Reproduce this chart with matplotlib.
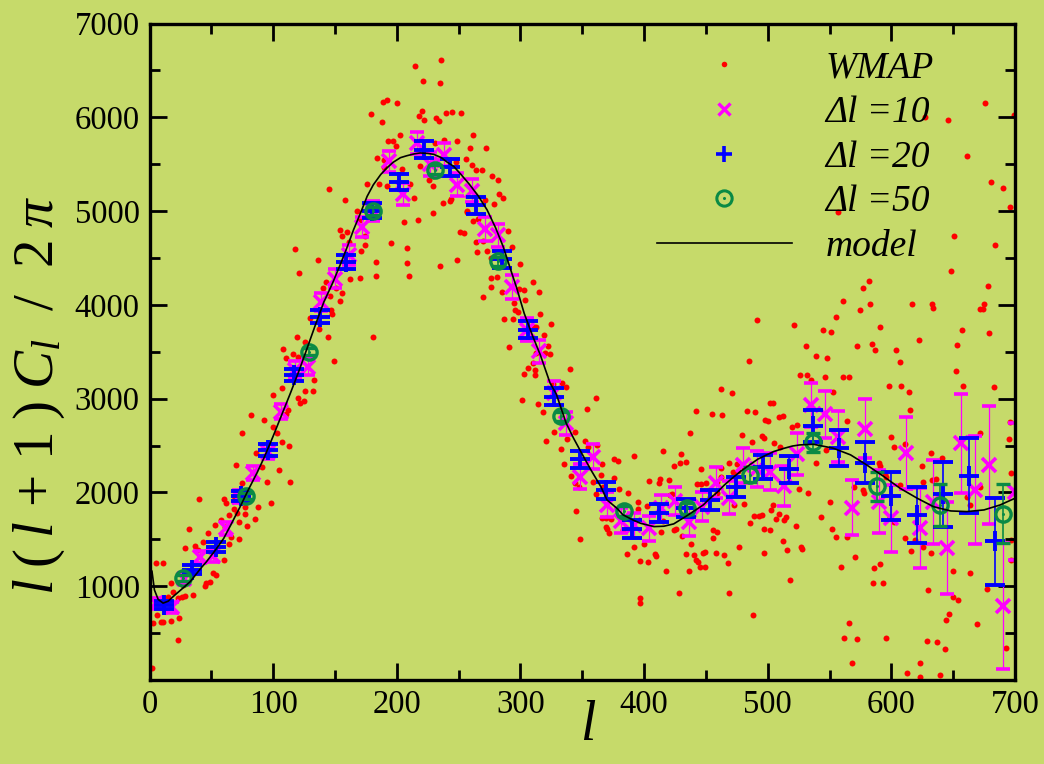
import matplotlib.pyplot as plt
from matplotlib.lines import Line2D
from matplotlib.ticker import MultipleLocator, FixedLocator

plt.rcParams['font.family'] = ['Liberation Serif', 'DejaVu Serif']
plt.rcParams['mathtext.fontset'] = 'custom'
plt.rcParams['mathtext.it'] = 'Liberation Serif:italic'
plt.rcParams['mathtext.rm'] = 'Liberation Serif'

# WMAP power spectrum, one point per multipole (l, l(l+1)C_l/2pi)
wmap_l = [
    2, 3, 5, 6, 9, 11, 11, 15, 17, 17, 19, 23, 23, 24, 26, 27, 29, 29, 32, 35,
    37, 39, 40, 43, 45, 46, 47, 49, 51, 53, 54, 58, 60, 60, 61, 62, 64, 64, 66, 68,
    68, 70, 71, 72, 72, 72, 75, 75, 77, 77, 79, 82, 85, 86, 88, 91, 93, 95, 98, 105,
    114,
    118, 136, 121, 161, 174, 171, 162, 170, 140, 143, 151, 156, 146, 154, 147, 148, 130, 137, 119, 144,
    181, 126, 108, 116, 110, 120, 149, 133, 126, 132, 107, 100, 120, 125, 122, 112, 110, 100, 103, 107,
    113,
    145, 158, 176, 168, 170, 154, 156, 160, 174,
    215, 236, 221, 235, 189, 192, 200, 179, 188, 220, 218, 222, 232, 234, 240, 245, 252, 203, 262, 193,
    197, 199, 231, 238, 249, 259, 272, 184, 190, 190, 248, 256, 261, 219, 204, 264, 269, 277, 229, 226,
    229, 186, 192, 211, 214, 244, 243, 237, 257, 257, 229, 217, 206, 262, 251, 254, 264, 195, 208, 265,
    273, 276, 249, 183, 208, 235, 210, 183, 270, 271, 266, 270,
    282, 283, 286, 279, 290, 293, 300, 276, 281, 276, 285, 299, 303, 310, 315,
    295, 304, 296, 298, 316, 325, 287, 294, 319, 311, 313, 291, 322, 324, 320, 313, 310, 306, 312, 303,
    312, 340, 301, 314, 318, 326, 334, 337, 361, 354, 321, 327, 333, 338, 335, 344, 352, 355, 362, 341,
    344, 347, 345, 348, 359, 366, 361, 365, 367, 376, 376, 379, 366, 369, 373, 369, 370, 372, 380, 387,
    383, 386, 392, 395, 395, 392, 397, 403, 397, 397, 400, 402, 404, 412, 413, 420, 415, 409, 410, 418,
    415, 414, 424, 426, 428, 421, 423, 424, 429, 430, 434, 431, 438, 434, 440, 442, 445, 444, 436, 437,
    442, 443,
    577, 582, 561, 583, 575, 555, 545, 551, 521, 491, 531, 539, 548, 572, 584, 587, 591, 604, 607, 617,
    633, 634, 622, 485, 526, 532, 535, 546, 561, 566, 553, 462, 471, 598, 608, 614, 615, 455, 463, 483,
    490, 498, 500, 502, 504, 509, 512, 520, 524, 564, 479, 487, 495, 497, 505, 510, 547, 600, 602, 611,
    657, 653, 652, 658, 672, 678, 679, 675, 672, 674, 683, 695, 697, 632, 641, 595, 596, 590, 591, 607,
    625, 626, 633, 636, 570, 577, 578, 533, 525, 550, 543, 504, 509, 507, 486, 489, 493, 495, 502, 513,
    515, 523, 516, 512, 518, 497, 527, 528, 552, 555, 564, 559, 571, 586, 591, 585, 593, 599, 602, 611,
    616, 619, 626, 632, 630, 650, 650, 654, 644, 647, 643, 629, 637, 623, 623, 613, 639, 596, 566, 562,
    572, 568, 669, 664, 677, 661, 664, 672, 693, 697, 697, 696, 475, 481, 472, 476, 469, 462, 462, 446,
    450, 446, 459, 459, 453, 473, 481, 456, 459, 456, 449, 458, 465, 468, 477, 448, 449, 469, 488, 497,
    503, 539,
    676, 627, 646, 661, 681, 690, 696, 557, 651, 684, 648, 699,
]
wmap_cl = [
    124, 612, 1252, 693, 622, 615, 1252, 889, 629, 1038, 942, 427, 871, 658, 889, 1013, 1405, 900, 1608, 910,
    1430, 1387, 1928, 1476, 1003, 1038, 1565, 1045, 1138, 1654, 1120, 1707, 1280, 1928, 1629, 1892, 1451, 1760, 1522, 1820,
    1963, 2297, 1778, 1689, 1992, 1504, 2105, 2632, 1771, 1849, 1643, 2827, 1714, 2418, 1842, 2269, 2774, 2116, 1885, 2241,
    2113,
    4595, 4474, 4339, 4667, 4638, 4574, 4275, 4290, 4176, 4240, 4179, 4126, 4097, 4044, 3948, 3905, 3859, 3742, 3656, 3656,
    3656, 3599, 3528, 3478, 3432, 3443, 3400, 3194, 3087, 3087, 3119, 3037, 3005, 2977, 2952, 2874, 2838, 2696, 2632, 2539,
    2500,
    5236, 5114, 5292, 4997, 4908, 4794, 4730, 4773, 4737,
    6544, 6608, 6391, 6366, 6167, 6181, 6153, 6039, 5953, 6067, 6010, 5975, 5993, 5961, 6046, 6053, 6046, 5815, 5815, 5747,
    5747, 5697, 5726, 5754, 5747, 5669, 5669, 5566, 5548, 5470, 5527, 5555, 5491, 5484, 5452, 5441, 5441, 5370, 5370, 5327,
    5263, 5292, 5263, 5285, 5142, 5128, 5103, 5085, 5004, 4986, 4979, 4908, 4886, 4890, 4780, 4765, 4666, 4659, 4605, 4563,
    4574, 4495, 4474, 4459, 4445, 4420, 4310, 4303, 4684, 5121, 4915, 4083,
    5328, 5178, 5143, 5072, 4784, 4616, 4439, 4286, 4296, 4190, 4133, 4168, 4161, 4243, 4140,
    4019, 4048, 3948, 3920, 3906, 3795, 3849, 3849, 3682, 3763, 3763, 3550, 3557, 3475, 3486, 3486, 3379, 3326, 3301, 3265,
    3251, 3315, 2988, 2945, 2853, 3159, 3166, 3123, 3009, 2888, 2554, 2650, 2465, 2568, 2305, 2650, 2554, 2483, 2504, 2177,
    2106, 2063, 1807, 1501, 2116, 2305, 1981, 2184, 2063, 2159, 2362, 2333, 1725, 1725, 1715, 1636, 1608, 1565, 2035, 1992,
    1601, 1345, 2390, 1899, 1821, 1423, 1266, 1263, 871, 818, 1448, 1857, 2127, 2099, 2141, 2134, 2444, 1345, 1323, 1163,
    1697, 1583, 1601, 1608, 932, 1971, 1981, 2287, 2319, 2412, 2323, 1537, 1451, 1345, 1330, 1281, 1209, 1263, 1167, 2639,
    2871, 2092,
    4179, 4250, 4037, 4012, 3948, 3870, 3727, 3706, 3781, 3841, 3564, 3457, 3429, 3557, 3585, 3514, 3759, 3514, 3393, 4005,
    4012, 3962, 3628, 3400, 3251, 3254, 3201, 3229, 3229, 3229, 3066, 3105, 3059, 3140, 3137, 3066, 2881, 2838, 2827, 2867,
    2863, 2774, 2767, 2952, 2959, 2802, 2810, 2703, 2721, 2767, 2614, 2543, 2603, 2578, 2525, 2490, 2454, 2589, 2490, 2518,
    3727, 3574, 3300, 3130, 2639, 4204, 3699, 4012, 3955, 3955, 3123, 2568, 2212, 2418, 2365, 2198, 2170, 2312, 2284, 2080,
    2283, 2116, 2134, 2141, 2055, 2027, 1992, 1999, 2034, 1903, 1735, 1871, 1768, 1714, 1678, 1753, 1753, 1760, 1600, 1707,
    1743, 1643, 1387, 1487, 1067, 1351, 1415, 1394, 1607, 1522, 1522, 1209, 1309, 1191, 1238, 1031, 1038, 1743, 1689, 1511,
    1380, 1494, 1415, 1351, 960, 1166, 882, 853, 640, 704, 327, 416, 402, 177, 28, 78, 53, 444, 611, 444,
    434, 177, 597, 1138, 967, 1956, 1863, 2063, 338, 1280, 1494, 2746, 2305, 2276, 2223, 2234, 2319, 2258, 2169, 2248,
    2105, 2091, 2116, 1992, 1956, 1867, 1878, 1600, 1582, 1511, 1369, 1351, 1333, 1245, 1415, 1358, 1209, 932, 693, 1607,
    1814, 2312,
    6153, 6004, 5976, 5584, 5307, 5243, 5044, 4987, 4738, 4642, 4364, 6030,
]

# binned spectra
bin10_l = [5, 18, 28, 41, 51, 62, 72, 84, 96, 106, 118, 128, 139, 150, 161, 172,
           181, 194, 205, 216, 227, 238, 249, 261, 271, 282, 293, 305, 315, 327, 337, 348,
           359, 370, 381, 392, 404, 414, 425, 436, 447, 458, 469, 480, 491, 502, 513, 524,
           535, 546, 557, 568, 579, 590, 600, 612, 623, 634, 645, 656, 668, 679, 690, 700]
bin10_cl = [818, 775, 1080, 1316, 1323, 1618, 1956, 2205, 2436, 2863, 3308, 3343, 4030, 4280, 4535, 4830,
            5000, 5530, 5180, 5726, 5500, 5601, 5281, 5217, 4808, 4740, 4190, 3735, 3504, 3059, 2738, 2170,
            2383, 1870, 1700, 1650, 1619, 1830, 1910, 1685, 1850, 2105, 1945, 2290, 2250, 2223, 2070, 2411,
            2934, 2835, 2596, 1839, 2678, 1903, 1725, 2418, 1618, 1900, 1405, 2525, 2027, 2294, 789, 2009]
bin10_err = [60, 60, 60, 65, 65, 70, 70, 75, 80, 85, 90, 95, 100, 100, 105, 110,
             110, 115, 120, 120, 125, 125, 125, 125, 125, 125, 125, 125, 125, 125, 125, 130,
             130, 130, 130, 135, 135, 140, 145, 150, 155, 165, 175, 185, 195, 200, 210, 220,
             235, 250, 270, 290, 315, 335, 355, 385, 425, 450, 490, 530, 575, 625, 675, 730]

bin20_l = [12, 34, 54, 74, 96, 117, 138, 159, 180, 202, 222, 243, 264, 285, 306, 327, 348,
           369, 390, 412, 434, 453, 474, 496, 517, 537, 558, 579, 600, 621, 642, 663, 684]
bin20_cl = [800, 1178, 1420, 1963, 2454, 3250, 3873, 4460, 5004, 5310, 5655, 5465, 5060, 4485, 3735, 3020, 2356,
            2025, 1610, 1780, 1834, 1921, 2060, 2270, 2245, 2710, 2473, 2318, 1965, 1760, 1980, 2180, 1478]
bin20_err = [45, 45, 50, 55, 60, 65, 70, 75, 80, 85, 90, 90, 90, 90, 90, 90, 90,
             90, 95, 95, 100, 105, 110, 125, 145, 170, 190, 220, 255, 300, 345, 400, 465]

bin50_l = [27, 78, 129, 181, 231, 282, 333, 384, 435, 486, 537, 588, 639, 690]
bin50_cl = [1086, 1963, 3502, 5004, 5441, 4463, 2810, 1803, 1830, 2188, 2533, 2065, 1867, 1775]
bin50_err = [30, 35, 40, 45, 50, 50, 50, 55, 60, 80, 105, 155, 225, 310]

# best-fit model curve
model_l = [2, 4, 7, 11, 15, 20, 27, 33, 42, 46, 53, 60, 66, 73, 80, 87, 93, 100, 107, 114,
           121, 127, 134, 141, 148, 154, 160, 165, 171, 176, 181, 187, 192, 197, 203, 208, 214, 219, 225, 230,
           236, 241, 246, 252, 259, 266, 273, 280, 286, 292, 297, 303, 310, 316, 324, 329, 337, 343, 351, 357,
           365, 370, 378, 383, 391, 397, 408, 416, 424, 435, 448, 452, 459, 465, 472, 478, 486, 492, 499, 505,
           513, 520, 526, 537, 553, 567, 580, 594, 607, 621, 634, 648, 661, 675, 688, 700]
model_cl = [1160, 960, 860, 820, 840, 900, 980, 1050, 1200, 1260, 1380, 1510, 1660, 1840, 2030, 2210, 2380, 2600, 2830, 3060,
            3300, 3520, 3780, 4030, 4230, 4420, 4620, 4800, 4990, 5157, 5280, 5390, 5460, 5520, 5570, 5590, 5610, 5620, 5615, 5605,
            5570, 5520, 5477, 5390, 5281, 5160, 5014, 4820, 4623, 4380, 4180, 3912, 3664, 3470, 3166, 3050, 2739, 2578, 2383, 2241,
            2063, 1921, 1832, 1761, 1707, 1672, 1636, 1640, 1665, 1755, 1868, 1921, 2000, 2080, 2160, 2225, 2300, 2355, 2400, 2437,
            2470, 2495, 2507, 2514, 2472, 2401, 2294, 2169, 2045, 1938, 1849, 1803, 1796, 1814, 1867, 1938]

bg = '#c6da6a'
green = '#0a8a45'

fig = plt.figure(figsize=(10.44, 7.64), dpi=100, facecolor=bg)
ax = fig.add_axes([0.1432, 0.1099, 0.829, 0.8593], facecolor=bg)

ax.plot(wmap_l, wmap_cl, 'o', color='red', ms=4.3, mew=0, zorder=1)
ax.errorbar(bin10_l, bin10_cl, yerr=bin10_err, fmt='x', color='#ff00ff', ms=10, mew=2.6,
            elinewidth=0.9, capsize=5, capthick=0.9, zorder=2)
ax.errorbar(bin20_l, bin20_cl, yerr=bin20_err, fmt='+', color='#0000ff', ms=14, mew=2.8,
            elinewidth=1.2, capsize=7, capthick=1.2, zorder=3)
ax.errorbar(bin50_l, bin50_cl, yerr=bin50_err, fmt='o', color=green, mfc='none', ms=11, mew=2.4,
            elinewidth=1.2, capsize=5, capthick=1.2, zorder=4)
ax.plot(bin50_l, bin50_cl, 'o', color=green, ms=2.2, mew=0, zorder=4)
ax.plot(model_l, model_cl, '-', color='black', lw=1.2, zorder=5)

ax.set_xlim(0, 700)
ax.set_ylim(0, 7000)
ax.xaxis.set_major_locator(MultipleLocator(100))
ax.xaxis.set_minor_locator(MultipleLocator(50))
ax.yaxis.set_major_locator(FixedLocator([1000, 2000, 3000, 4000, 5000, 6000, 7000]))
ax.yaxis.set_minor_locator(MultipleLocator(500))
ax.tick_params(which='both', direction='in', top=True, right=True, width=2, labelsize=23.5, pad=7)
ax.tick_params(which='major', length=12)
ax.tick_params(which='minor', length=7)
for s in ax.spines.values():
    s.set_linewidth(2.4)

fig.text(0.038, 0.482, r'$\mathit{l\;(\;l\,+\,1\;)\;C_l\ \ /\ \ 2\;\pi}$', rotation=90,
         ha='center', va='center', fontsize=41)
fig.text(0.563, 0.05, r'$\mathit{l}$', ha='center', va='center', fontsize=40)

handles = [
    Line2D([], [], ls='none', marker='o', color='red', ms=4, mew=0),
    Line2D([], [], ls='none', marker='x', color='#ff00ff', ms=9, mew=2.4),
    Line2D([], [], ls='none', marker='+', color='#0000ff', ms=12, mew=2.6),
    (Line2D([], [], ls='none', marker='o', color=green, mfc='none', ms=11, mew=2.2),
     Line2D([], [], ls='none', marker='o', color=green, ms=2.2, mew=0)),
    Line2D([], [], color='black', lw=1.2),
]
labels = ['WMAP', '\u0394l =10', '\u0394l =20', '\u0394l =50', 'model']
ax.legend(handles, labels, loc='upper left', bbox_to_anchor=(0.586, 0.958), frameon=False,
          borderpad=0, borderaxespad=0, handlelength=3.6, handletextpad=0.9, labelspacing=0.27,
          prop={'family': 'Liberation Serif', 'style': 'italic', 'size': 27})

fig.savefig('out.png', dpi=100, facecolor=bg)
